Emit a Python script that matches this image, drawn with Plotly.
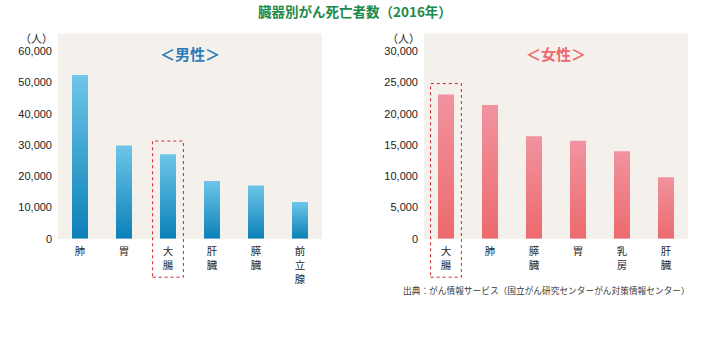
import plotly.graph_objects as go

# ---- data ----
male_categories = ["肺", "胃", "大<br>腸", "肝<br>臓", "膵<br>臓", "前<br>立<br>腺"]
male_values = [52430, 29854, 27026, 18510, 17060, 11803]
female_categories = ["大<br>腸", "肺", "膵<br>臓", "胃", "乳<br>房", "肝<br>臓"]
female_values = [23073, 21408, 16415, 15677, 14015, 9871]
male_ticks = [0, 10000, 20000, 30000, 40000, 50000, 60000]
female_ticks = [0, 5000, 10000, 15000, 20000, 25000, 30000]
male_highlight = 2
female_highlight = 0

W, H = 710, 352
FONT = "Noto Sans CJK JP"
BG = "#F4F0EC"
BLUE_TOP, BLUE_BOT = "#6EC6E8", "#0A80B8"
PINK_TOP, PINK_BOT = "#F1939F", "#EC6A6E"

def px_x(p):
    return p / W

def px_y(p):
    return 1 - p / H

fig = go.Figure()

BAR_HALF = 8 / 44

def add_bars(values, xa, ya, top, bot):
    for i, v in enumerate(values):
        fig.add_trace(go.Scatter(
            x=[i - BAR_HALF, i + BAR_HALF, i + BAR_HALF, i - BAR_HALF, i - BAR_HALF],
            y=[0, 0, v, v, 0],
            mode="lines", line=dict(width=0), fill="toself",
            fillgradient=dict(type="vertical", colorscale=[[0, bot], [1, top]]),
            xaxis=xa, yaxis=ya, hoverinfo="skip", showlegend=False,
        ))

add_bars(male_values, "x", "y", BLUE_TOP, BLUE_BOT)
add_bars(female_values, "x2", "y2", PINK_TOP, PINK_BOT)

ydom = [px_y(243), px_y(34)]
tickfont = dict(family="Liberation Sans", size=11, color="#222")
catfont = dict(family=FONT, size=10.5, color="#2a2a2a")

fig.update_layout(
    width=W, height=H, margin=dict(l=0, r=0, t=0, b=0),
    paper_bgcolor="white", plot_bgcolor=BG, showlegend=False,
    xaxis=dict(domain=[px_x(58), px_x(322)], range=[-0.5, 5.5],
               tickvals=list(range(len(male_categories))), ticktext=male_categories,
               showgrid=False, zeroline=False, showline=False, ticks="",
               ticklabelstandoff=5, tickfont=catfont),
    yaxis=dict(domain=ydom, range=[0, 65700], tickvals=male_ticks,
               tickformat=",d", showgrid=False, zeroline=False, showline=False,
               ticks="", ticklabelstandoff=5, tickfont=tickfont),
    xaxis2=dict(domain=[px_x(424), px_x(688)], range=[-0.5, 5.5], anchor="y2",
                tickvals=list(range(len(female_categories))), ticktext=female_categories,
                showgrid=False, zeroline=False, showline=False, ticks="",
                ticklabelstandoff=5, tickfont=catfont),
    yaxis2=dict(domain=ydom, range=[0, 32850], anchor="x2", tickvals=female_ticks,
                tickformat=",d", showgrid=False, zeroline=False, showline=False,
                ticks="", ticklabelstandoff=5, tickfont=tickfont),
)

# highlight boxes (dotted red) around the colorectal category
def box(xref, idx, top_frac):
    fig.add_shape(type="rect", xref=xref + " domain", yref="paper",
                  x0=(idx + 0.5 - 0.35) / 6, x1=(idx + 0.5 + 0.35) / 6,
                  y0=px_y(282), y1=top_frac,
                  line=dict(color="#D2232A", width=1, dash="dot"),
                  fillcolor="rgba(0,0,0,0)", layer="above")

box("x", male_highlight, px_y(143.5))
box("x2", female_highlight, px_y(85))

fig.add_annotation(text="臓器別がん死亡者数（2016年）", x=px_x(355), y=1,
                   xref="paper", yref="paper", showarrow=False,
                   xanchor="center", yanchor="top", borderpad=0,
                   font=dict(family=FONT, size=13.5, color="#1B8A4C", weight="bold"))

ann = [
    dict(text="＜男性＞", x=px_x(190), y=px_y(54),
         font=dict(family=FONT, size=15, color="#2A7DB8", weight="bold")),
    dict(text="＜女性＞", x=px_x(556), y=px_y(54),
         font=dict(family=FONT, size=15, color="#EC6A70", weight="bold")),
    dict(text="（人）", x=px_x(36), y=px_y(39),
         font=dict(family=FONT, size=11, color="#222")),
    dict(text="（人）", x=px_x(403), y=px_y(39),
         font=dict(family=FONT, size=11, color="#222")),
    dict(text="出典：がん情報サービス（国立がん研究センターがん対策情報センター）",
         x=px_x(546), y=px_y(296),
         font=dict(family=FONT, size=8.7, color="#3a3a3a")),
]
for a in ann:
    fig.add_annotation(xref="paper", yref="paper", showarrow=False,
                       xanchor="center", yanchor="middle", borderpad=0, **a)

fig.write_html("out.html")
